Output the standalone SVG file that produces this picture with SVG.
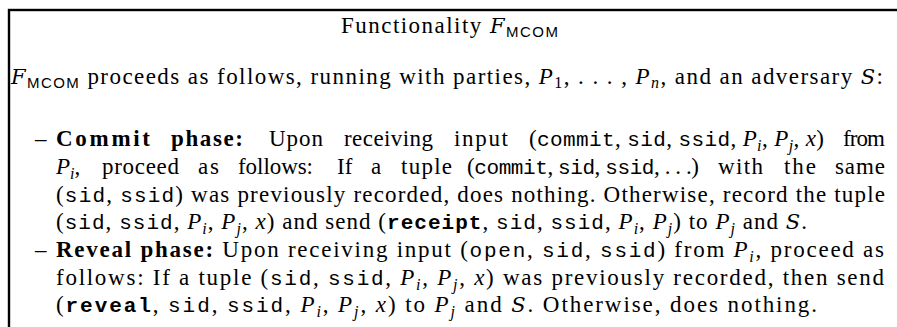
<svg xmlns="http://www.w3.org/2000/svg" width="897" height="327" viewBox="0 0 897 327">
<style>
text{font-family:"Liberation Serif","Times New Roman",serif;font-size:23px;fill:#000}
.b{font-weight:bold}
.i{font-style:italic}
.tt{font-family:"Liberation Mono","Courier New",monospace;font-size:21px}
.ttb{font-family:"Liberation Mono","Courier New",monospace;font-size:21px;font-weight:bold}
.cal{font-style:italic;font-family:"DejaVu Serif",serif;font-size:21px}
.ss{font-family:"Liberation Sans",Arial,sans-serif;font-size:15px}
.sb{font-style:italic;font-size:16px}
.sn{font-size:16px}
</style>
<rect id="frame" x="9" y="10" width="920" height="340" fill="#fff" stroke="#000" stroke-width="2.4"/>
<g id="title">
<text x="341" y="33" textLength="217" lengthAdjust="spacing">Functionality <tspan class="cal">F</tspan><tspan class="ss" dy="4">MCOM</tspan></text>
</g>
<g id="intro">
<text x="11" y="84" textLength="872" lengthAdjust="spacing"><tspan class="cal">F</tspan><tspan class="ss" dy="4">MCOM</tspan><tspan dy="-4"> proceeds as follows, running with parties, </tspan><tspan class="i">P</tspan><tspan class="sn" dy="4">1</tspan><tspan dy="-4">, . . . , </tspan><tspan class="i">P</tspan><tspan class="sb" dy="4">n</tspan><tspan dy="-4">, and an adversary </tspan><tspan class="cal">S</tspan>:</text>
</g>
<g id="commit">
<text x="35" y="146">–</text>
<text x="56" y="146" class="b" textLength="94" lengthAdjust="spacing">Commit</text>
<text x="171" y="146" class="b" textLength="72" lengthAdjust="spacing">phase:</text>
<text x="269" y="146" textLength="54" lengthAdjust="spacing">Upon</text>
<text x="344" y="146" textLength="89" lengthAdjust="spacing">receiving</text>
<text x="454" y="146" textLength="54" lengthAdjust="spacing">input</text>
<text x="529" y="146" textLength="295" lengthAdjust="spacing">(<tspan class="tt">commit</tspan>, <tspan class="tt">sid</tspan>, <tspan class="tt">ssid</tspan>, <tspan class="i">P</tspan><tspan class="sb" dy="5">i</tspan><tspan dy="-5">, </tspan><tspan class="i">P</tspan><tspan class="sb" dy="5">j</tspan><tspan dy="-5">, </tspan><tspan class="i">x</tspan>)</text>
<text x="843" y="146" textLength="42" lengthAdjust="spacing">from</text>
<text x="56" y="174"><tspan class="i">P</tspan><tspan class="sb" dy="5">i</tspan><tspan dy="-5">,</tspan></text>
<text x="102" y="174" textLength="77" lengthAdjust="spacing">proceed</text>
<text x="198" y="174" textLength="21" lengthAdjust="spacing">as</text>
<text x="238" y="174" textLength="75" lengthAdjust="spacing">follows:</text>
<text x="337" y="174">If</text>
<text x="371" y="174">a</text>
<text x="401" y="174" textLength="51" lengthAdjust="spacing">tuple</text>
<text x="467" y="174" textLength="232" lengthAdjust="spacing">(<tspan class="tt">commit</tspan>, <tspan class="tt">sid</tspan>, <tspan class="tt">ssid</tspan>, . . .)</text>
<text x="718" y="174" textLength="45" lengthAdjust="spacing">with</text>
<text x="784" y="174" textLength="32" lengthAdjust="spacing">the</text>
<text x="835" y="174" textLength="50" lengthAdjust="spacing">same</text>
<text x="56" y="201.5" textLength="829" lengthAdjust="spacing">(<tspan class="tt">sid</tspan>, <tspan class="tt">ssid</tspan>) was previously recorded, does nothing. Otherwise, record the tuple</text>
<text x="56" y="229" textLength="751" lengthAdjust="spacing">(<tspan class="tt">sid</tspan>, <tspan class="tt">ssid</tspan>, <tspan class="i">P</tspan><tspan class="sb" dy="5">i</tspan><tspan dy="-5">, </tspan><tspan class="i">P</tspan><tspan class="sb" dy="5">j</tspan><tspan dy="-5">, </tspan><tspan class="i">x</tspan>) and send (<tspan class="ttb">receipt</tspan>, <tspan class="tt">sid</tspan>, <tspan class="tt">ssid</tspan>, <tspan class="i">P</tspan><tspan class="sb" dy="5">i</tspan><tspan dy="-5">, </tspan><tspan class="i">P</tspan><tspan class="sb" dy="5">j</tspan><tspan dy="-5">) to </tspan><tspan class="i">P</tspan><tspan class="sb" dy="5">j</tspan><tspan dy="-5"> and </tspan><tspan class="cal">S</tspan>.</text>
</g>
<g id="reveal">
<text x="35" y="257">–</text>
<text x="56" y="257" textLength="828" lengthAdjust="spacing"><tspan class="b">Reveal phase:</tspan> Upon receiving input (<tspan class="tt">open</tspan>, <tspan class="tt">sid</tspan>, <tspan class="tt">ssid</tspan>) from <tspan class="i">P</tspan><tspan class="sb" dy="5">i</tspan><tspan dy="-5">, proceed as</tspan></text>
<text x="56" y="284.5" textLength="828" lengthAdjust="spacing">follows: If a tuple (<tspan class="tt">sid</tspan>, <tspan class="tt">ssid</tspan>, <tspan class="i">P</tspan><tspan class="sb" dy="5">i</tspan><tspan dy="-5">, </tspan><tspan class="i">P</tspan><tspan class="sb" dy="5">j</tspan><tspan dy="-5">, </tspan><tspan class="i">x</tspan>) was previously recorded, then send</text>
<text x="56" y="312" textLength="761" lengthAdjust="spacing">(<tspan class="ttb">reveal</tspan>, <tspan class="tt">sid</tspan>, <tspan class="tt">ssid</tspan>, <tspan class="i">P</tspan><tspan class="sb" dy="5">i</tspan><tspan dy="-5">, </tspan><tspan class="i">P</tspan><tspan class="sb" dy="5">j</tspan><tspan dy="-5">, </tspan><tspan class="i">x</tspan>) to <tspan class="i">P</tspan><tspan class="sb" dy="5">j</tspan><tspan dy="-5"> and </tspan><tspan class="cal">S</tspan>. Otherwise, does nothing.</text>
</g>
</svg>
